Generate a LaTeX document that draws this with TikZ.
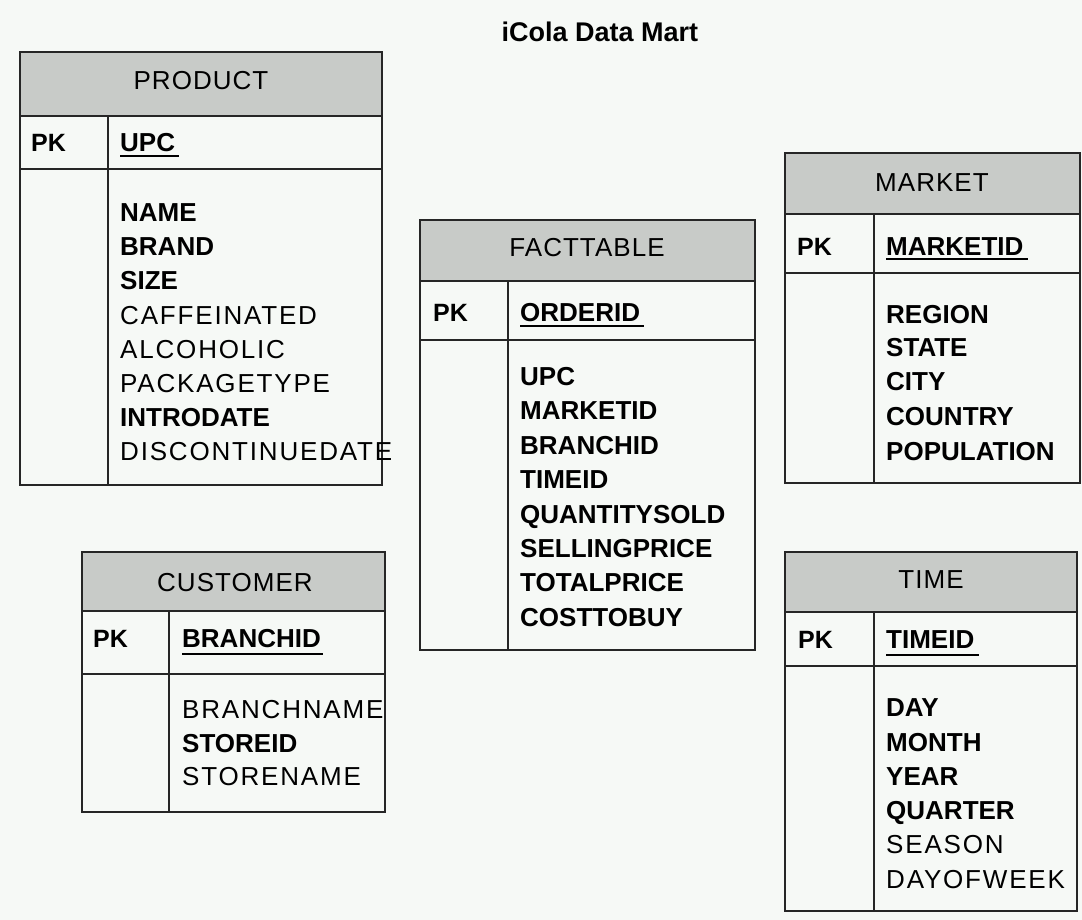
\documentclass[tikz,border=0pt]{standalone}
\usepackage{fontspec}
\setmainfont{Liberation Sans}
\definecolor{bgc}{RGB}{246,249,246}
\definecolor{hdrfill}{RGB}{200,203,200}
\tikzset{
  tbl/.style={draw=black!85, line width=1.6pt},
  hdrbox/.style={tbl, fill=hdrfill},
  ttl/.style={font=\fontsize{26}{30}\selectfont\addfontfeature{LetterSpace=4}, anchor=base, inner sep=0pt},
  pkl/.style={font=\fontsize{25}{30}\selectfont\bfseries, anchor=base west, inner sep=0pt},
  fb/.style={font=\fontsize{26}{30}\selectfont\bfseries, anchor=base west, inner sep=0pt},
  fr/.style={font=\fontsize{26}{30}\selectfont\addfontfeature{LetterSpace=7}, anchor=base west, inner sep=0pt},
  ul/.style={line width=1.6pt},
}
\begin{document}
\begin{tikzpicture}[x=1pt,y=-1pt]
\useasboundingbox (0,0) rectangle (1082,920);
\fill[bgc] (0,0) rectangle (1082,920);

\node[font=\fontsize{27}{30}\selectfont\bfseries, anchor=base, inner sep=0pt] (title) at (600,42) {iCola Data Mart};

% PRODUCT
\filldraw[hdrbox] (20,52) rectangle (382,116);
\draw[tbl] (20,116) rectangle (382,485);
\draw[tbl] (20,169) -- (382,169);
\draw[tbl] (108,116) -- (108,485);
\node[ttl] (pT) at (201,90) {PRODUCT};
\node[pkl] (pPK) at (31,152) {PK};
\node[fb] (pKey) at (120,152) {UPC};
\draw[ul] ([yshift=-4pt]pKey.base west) -- ([yshift=-4pt,xshift=4pt]pKey.base east);
\node[fb] (p1) at (120,222) {NAME};
\node[fb] (p2) at (120,256) {BRAND};
\node[fb] (p3) at (120,290) {SIZE};
\node[fr] (p4) at (120,324) {CAFFEINATED};
\node[fr] (p5) at (120,358) {ALCOHOLIC};
\node[fr] (p6) at (120,392) {PACKAGETYPE};
\node[fb] (p7) at (120,426) {INTRODATE};
\node[fr] (p8) at (120,460) {DISCONTINUEDATE};

% FACTTABLE
\filldraw[hdrbox] (420,220) rectangle (755,281);
\draw[tbl] (420,281) rectangle (755,650);
\draw[tbl] (420,340) -- (755,340);
\draw[tbl] (508,281) -- (508,650);
\node[ttl] (fT) at (587,257) {FACTTABLE};
\node[pkl] (fPK) at (433,321) {PK};
\node[fb] (fKey) at (520,321) {ORDERID};
\draw[ul] ([yshift=-5pt]fKey.base west) -- ([yshift=-5pt,xshift=4pt]fKey.base east);
\node[fb] (f1) at (520,385) {UPC};
\node[fb] (f2) at (520,419.5) {MARKETID};
\node[fb] (f3) at (520,454) {BRANCHID};
\node[fb] (f4) at (520,488.5) {TIMEID};
\node[fb] (f5) at (520,523) {QUANTITYSOLD};
\node[fb] (f6) at (520,557) {SELLINGPRICE};
\node[fb] (f7) at (520,591) {TOTALPRICE};
\node[fb] (f8) at (520,626) {COSTTOBUY};

% MARKET
\filldraw[hdrbox] (785,153) rectangle (1080,214);
\draw[tbl] (785,214) rectangle (1080,483);
\draw[tbl] (785,273) -- (1080,273);
\draw[tbl] (874,214) -- (874,483);
\node[ttl] (mT) at (932,192) {MARKET};
\node[pkl] (mPK) at (797,255) {PK};
\node[fb] (mKey) at (886,255) {MARKETID};
\draw[ul] ([yshift=-4pt]mKey.base west) -- ([yshift=-4pt,xshift=4pt]mKey.base east);
\node[fb] (m1) at (886,323) {REGION};
\node[fb] (m2) at (886,356) {STATE};
\node[fb] (m3) at (886,390) {CITY};
\node[fb] (m4) at (886,425) {COUNTRY};
\node[fb] (m5) at (886,460) {POPULATION};

% CUSTOMER
\filldraw[hdrbox] (82,552) rectangle (385,611);
\draw[tbl] (82,611) rectangle (385,812);
\draw[tbl] (82,674) -- (385,674);
\draw[tbl] (169,611) -- (169,812);
\node[ttl] (cT) at (235,591) {CUSTOMER};
\node[pkl] (cPK) at (93,647) {PK};
\node[fb] (cKey) at (182,647) {BRANCHID};
\draw[ul] ([yshift=-7pt]cKey.base west) -- ([yshift=-7pt,xshift=2pt]cKey.base east);
\node[fr] (c1) at (182,718) {BRANCHNAME};
\node[fb] (c2) at (182,752) {STOREID};
\node[fr] (c3) at (182,785) {STORENAME};

% TIME
\filldraw[hdrbox] (785,552) rectangle (1077,612);
\draw[tbl] (785,612) rectangle (1077,911);
\draw[tbl] (785,666) -- (1077,666);
\draw[tbl] (874,612) -- (874,911);
\node[ttl] (tT) at (931,588) {TIME};
\node[pkl] (tPK) at (798,648) {PK};
\node[fb] (tKey) at (886,648) {TIMEID};
\draw[ul] ([yshift=-7pt]tKey.base west) -- ([yshift=-7pt,xshift=4pt]tKey.base east);
\node[fb] (t1) at (886,716) {DAY};
\node[fb] (t2) at (886,751) {MONTH};
\node[fb] (t3) at (886,785) {YEAR};
\node[fb] (t4) at (886,819) {QUARTER};
\node[fr] (t5) at (886,853) {SEASON};
\node[fr] (t6) at (886,888) {DAYOFWEEK};
\end{tikzpicture}
\end{document}
